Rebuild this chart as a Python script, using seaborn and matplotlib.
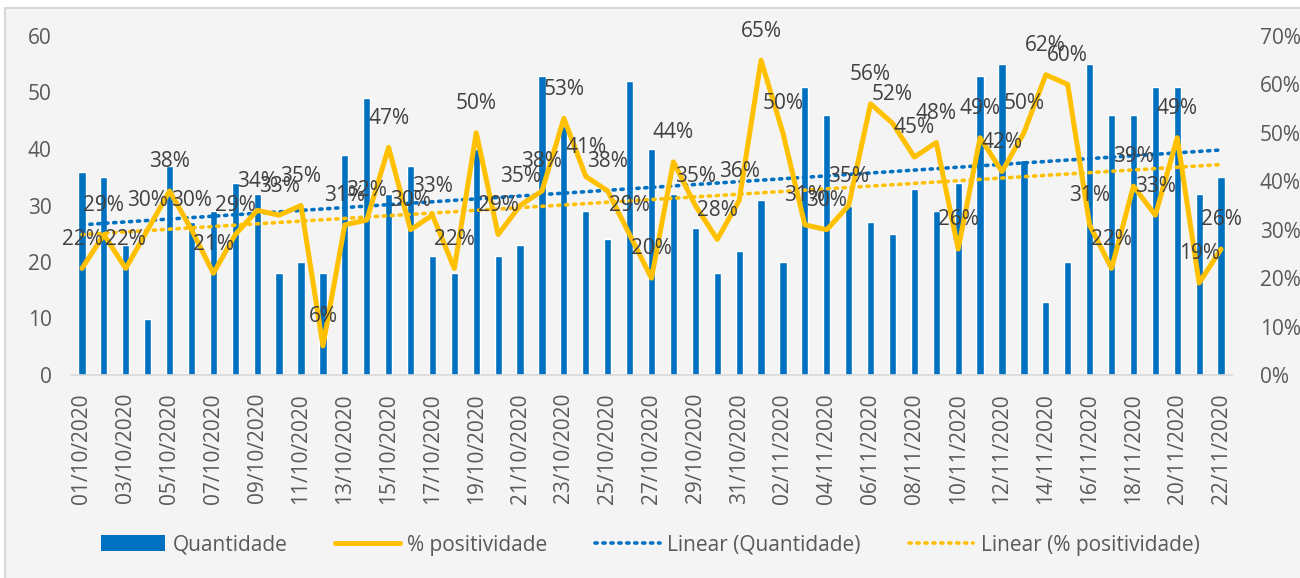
import numpy as np
import pandas as pd
import matplotlib.pyplot as plt
import seaborn as sns
from matplotlib.patches import Rectangle, Patch
from matplotlib.lines import Line2D
from matplotlib.ticker import PercentFormatter

# dias de 01/10/2020 a 22/11/2020
datas = pd.date_range("2020-10-01", "2020-11-22").strftime("%d/%m/%Y").tolist()

quantidade = [36, 35, 23, 10, 37, 27, 29, 34, 32, 18, 20, 18, 39, 49, 32, 37, 21, 18,
              40, 21, 23, 53, 44, 29, 24, 52, 40, 32, 26, 18, 22, 31, 20, 51, 46, 30,
              27, 25, 33, 29, 34, 53, 55, 38, 13, 20, 55, 46, 46, 51, 51, 32, 35]

positividade = [22, 29, 22, 30, 38, 30, 21, 29, 34, 33, 35, 6, 31, 32, 47, 30, 33, 22,
                50, 29, 35, 38, 53, 41, 38, 29, 20, 44, 35, 28, 36,
                65, 50, 31, 30, 35, 56, 52, 45, 48, 26, 49, 42, 50, 62, 60, 31, 22,
                39, 33, 49, 19, 26]

df = pd.DataFrame({"data": datas, "quantidade": quantidade, "positividade": positividade})
df["idx"] = np.arange(len(df))

AZUL = "#0070C0"
AMARELO = "#FFC000"
CINZA = "#595959"

sns.set_theme(style="white")
plt.rcParams["font.family"] = ["Open Sans", "DejaVu Sans"]

fig = plt.figure(figsize=(13, 5.78), dpi=100, facecolor="white")
fig.patches.append(Rectangle((5 / 1300, -0.05), 1.1, 1.05 - 8 / 578, transform=fig.transFigure,
                             facecolor="#f4f4f4", edgecolor="#d0d0d0", lw=1.2, zorder=-10))

ax = fig.add_axes([71 / 1300, 1 - 375 / 578, (1232 - 71) / 1300, (375 - 36) / 578])
ax.set_facecolor("none")

sns.barplot(data=df, x="data", y="quantidade", color=AZUL, saturation=1, width=0.33, ax=ax)

# tendencia linear (quantidade)
a, b = np.polyfit(df["idx"], df["quantidade"], 1)
ax.plot(df["idx"], a * df["idx"] + b, color=AZUL, lw=2.6, linestyle=(0, (0.6, 1.6)),
        dash_capstyle="round", zorder=3)

ax.set_ylim(0, 60)
ax.set_xlim(-0.5, len(df) - 0.5)
ax.set_xlabel("")
ax.set_ylabel("")
ax.set_yticks(range(0, 61, 10))
ax.set_xticks(df["idx"][::2])
ax.set_xticklabels(df["data"][::2], rotation=90)
ax.set_xticks(np.arange(-0.5, len(df) - 1, 2), minor=True)
ax.tick_params(axis="x", which="major", length=0, pad=13, labelsize=15, labelcolor=CINZA)
ax.tick_params(axis="x", which="minor", length=6, color="#d9d9d9", width=1)
ax.tick_params(axis="y", length=0, pad=14, labelsize=15, labelcolor=CINZA)
for s in ["top", "left", "right"]:
    ax.spines[s].set_visible(False)
ax.spines["bottom"].set_color("#d9d9d9")
ax.spines["bottom"].set_linewidth(1.2)

ax2 = ax.twinx()
ax2.set_facecolor("none")
c, d = np.polyfit(df["idx"], df["positividade"], 1)
ax2.plot(df["idx"], c * df["idx"] + d, color=AMARELO, lw=2.6, linestyle=(0, (0.6, 1.6)),
         dash_capstyle="round", zorder=2)
sns.lineplot(data=df, x="idx", y="positividade", color=AMARELO, lw=3.6, ax=ax2, zorder=3)

for i, v in zip(df["idx"], df["positividade"]):
    ax2.annotate(f"{v}%", (i, v), xytext=(0, 21), textcoords="offset points",
                 ha="center", va="center", fontsize=15, color="#404040", zorder=5)

ax2.set_ylim(0, 70)
ax2.set_yticks(range(0, 71, 10))
ax2.yaxis.set_major_formatter(PercentFormatter(decimals=0))
ax2.tick_params(axis="y", length=0, pad=20, labelsize=15, labelcolor=CINZA)
ax2.set_ylabel("")
ax2.set_xlabel("")
for s in ["top", "left", "right", "bottom"]:
    ax2.spines[s].set_visible(False)
ax2.set_xlim(-0.5, len(df) - 0.5)

handles = [
    Patch(facecolor=AZUL, edgecolor="none"),
    Line2D([], [], color=AMARELO, lw=3.6),
    Line2D([], [], color=AZUL, lw=2.6, linestyle=(0, (0.6, 1.6)), dash_capstyle="round"),
    Line2D([], [], color=AMARELO, lw=2.6, linestyle=(0, (0.6, 1.6)), dash_capstyle="round"),
]
labels = ["Quantidade", "% positividade", "Linear (Quantidade)", "Linear (% positividade)"]
fig.legend(handles, labels, loc="center", bbox_to_anchor=(0.5, 1 - 545 / 578), ncol=4,
           frameon=False, fontsize=15, labelcolor=CINZA, handlelength=3.1,
           handleheight=0.8, handletextpad=0.35, columnspacing=2.3)

fig.savefig("out.png", dpi=100, facecolor=fig.get_facecolor())
